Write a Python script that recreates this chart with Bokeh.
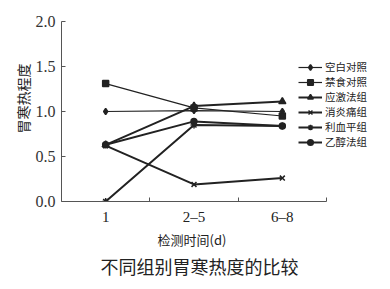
from bokeh.plotting import figure
from bokeh.models import Range1d, FixedTicker, Legend, LegendItem, Title
from bokeh.embed import file_html
from bokeh.resources import INLINE

categories = ["1", "2–5", "6–8"]
series_names = ["空白对照", "禁食对照", "应激法组", "消炎痛组", "利血平组", "乙醇法组"]
kongbai = [1.00, 1.01, 1.00]
jinshi = [1.31, 1.04, 0.95]
yingji = [0.63, 1.06, 1.11]
xiaoyantong = [0.62, 0.19, 0.26]
lixueping = [0.00, 0.85, 0.84]
yichun = [0.63, 0.89, 0.84]
y_ticks = [0.0, 0.5, 1.0, 1.5, 2.0]
y_label = "胃寒热程度"
x_label = "检测时间(d)"
title_text = "不同组别胃寒热度的比较"

all_series = [kongbai, jinshi, yingji, xiaoyantong, lixueping, yichun]
markers = ["diamond", "square", "triangle", "x", "asterisk", "circle"]
widths = [1.2, 1.2, 2.0, 2.0, 2.0, 2.0]
msizes = [6, 6, 7, 7, 7, 6]
ink = "#222222"
serif = "Liberation Serif"
cjk = "Noto Sans CJK SC"

n = len(categories)
xs = [i + 0.5 for i in range(n)]
# frame runs to the right edge so the legend fits; axis itself is bounded to [0, n]
x_end = n * (390 - 61) / (326 - 61)

p = figure(width=390, height=289, output_backend="svg", toolbar_location=None,
           x_range=Range1d(0, x_end), y_range=Range1d(0, 2.0),
           min_border_left=61, min_border_right=0, min_border_top=21, min_border_bottom=88)
p.outline_line_color = None
p.grid.grid_line_color = None
p.background_fill_color = "white"
p.border_fill_color = "white"

items = []
for name, ys, mk, lw, ms in zip(series_names, all_series, markers, widths, msizes):
    r1 = p.line(xs, ys, line_color=ink, line_width=lw)
    r2 = p.scatter(xs, ys, marker=mk, size=ms, line_color=ink, fill_color=ink, line_width=1.5)
    items.append(LegendItem(label=name, renderers=[r1, r2]))

legend = Legend(items=items, location=(237, 52), glyph_width=24, glyph_height=14,
                label_height=14, spacing=0, padding=0, margin=0, label_standoff=3,
                border_line_color=None, background_fill_alpha=0,
                label_text_font=cjk, label_text_font_size="10.5px", label_text_color=ink)
p.add_layout(legend)

# x axis
xa = p.xaxis[0]
xa.bounds = (0, n)
xa.ticker = FixedTicker(ticks=xs, minor_ticks=[float(i) for i in range(1, n + 1)])
xa.major_label_overrides = {x: c for x, c in zip(xs, categories)}
xa.major_tick_line_color = None
xa.minor_tick_in = 4
xa.minor_tick_out = 0
xa.minor_tick_line_color = "#555555"
xa.axis_line_color = "#555555"
xa.major_label_standoff = 1
xa.axis_label_standoff = 0
xa.major_label_text_font = serif
xa.major_label_text_font_size = "15px"
xa.major_label_text_color = ink

# y axis
ya = p.yaxis[0]
ya.ticker = FixedTicker(ticks=y_ticks, minor_ticks=[])
ya.major_label_overrides = {t: f"{t:.1f}" for t in y_ticks}
ya.major_tick_in = 4
ya.major_tick_out = 0
ya.major_tick_line_color = "#555555"
ya.axis_line_color = "#555555"
ya.major_label_standoff = 6
ya.axis_label_standoff = 0
ya.major_label_text_font = serif
ya.major_label_text_font_size = "16px"
ya.major_label_text_color = "#333333"

# y-axis label as a left title, offset from the frame bottom
p.add_layout(Title(text=y_label, align="left", offset=201 - 133, standoff=0,
                   text_font=cjk, text_font_size="14px", text_font_style="normal",
                   text_color=ink), "left")

# x-axis label and caption, left-aligned with offsets so they centre under the axis
p.add_layout(Title(text=x_label, align="left", offset=157 - 61, standoff=0,
                   text_font=cjk, text_font_size="13px", text_font_style="normal",
                   text_color=ink), "below")
p.add_layout(Title(text=title_text, align="left", offset=100 - 61, standoff=4,
                   text_font=cjk, text_font_size="18px", text_font_style="normal",
                   text_color=ink), "below")

open("out.html", "w").write(file_html(p, INLINE))
